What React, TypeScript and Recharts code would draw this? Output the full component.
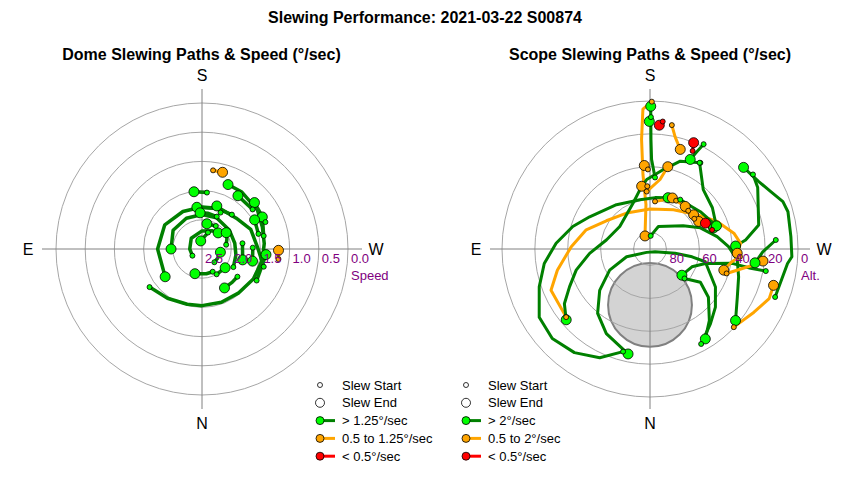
import React from "react";
import { ScatterChart, Scatter, XAxis, YAxis, ReferenceLine, ReferenceDot } from "recharts";

type Cat = "g" | "o" | "r";
type Slew = { cat: Cat; pts: [number, number][] };

const TITLE = "Slewing Performance: 2021-03-22 S00874";
const domeTitle = "Dome Slewing Paths & Speed (°/sec)";
const scopeTitle = "Scope Slewing Paths & Speed (°/sec)";

// ring positions
const domeRingSpeeds = [2.0, 1.5, 1.0, 0.5, 0.0];
const domeTickSpeeds = [2.5, 2.0, 1.5, 1.0, 0.5, 0.0];
const domeTickLabels = ["2.5", "2.0", "1.5", "1.0", "0.5", "0.0"];
const scopeRingAlts = [80, 60, 40, 20, 0];
const scopeTickLabels = ["80", "60", "40", "20", "0"];

const domeLegend = ["Slew Start", "Slew End", "> 1.25°/sec", "0.5 to 1.25°/sec", "< 0.5°/sec"];
const scopeLegend = ["Slew Start", "Slew End", "> 2°/sec", "0.5 to 2°/sec", "< 0.5°/sec"];

// dome slews: [azimuth°, speed °/sec], start -> end
const domeSlews: Slew[] = [
  { cat: "o", pts: [[188, 1.14], [195, 1.14]] },
  { cat: "o", pts: [[277.5, 1.18], [271, 1.19]] },
  { cat: "g", pts: [[54, 1.39], [35, 1.47], [15, 1.52], [0, 1.53], [340, 1.53], [320, 1.52], [300, 1.48], [280, 1.45], [265, 1.43], [250, 1.4], [235, 1.34], [215, 1.31], [202, 1.31]] },
  { cat: "g", pts: [[286, 1.4], [268, 1.55], [248, 1.6], [228, 1.71], [204, 1.74], [180, 1.78], [153, 1.78], [123, 1.74], [90, 1.74], [53, 1.71]] },
  { cat: "g", pts: [[300, 1.88], [280, 1.91], [260, 1.93], [235, 1.93], [205, 1.91], [180, 1.91], [153, 1.91], [123, 1.91], [90, 1.97]] },
  { cat: "g", pts: [[55, 2.3], [90, 2.29], [135, 2.24], [180, 2.19], [210, 2.14], [225, 2.11]] },
  { cat: "g", pts: [[185, 1.53], [172, 1.51]] },
  { cat: "g", pts: [[232, 1.4], [214, 1.4]] },
  { cat: "g", pts: [[247, 1.32], [228.5, 1.3]] },
  { cat: "g", pts: [[221, 1.72], [200, 1.76], [173, 1.78]] },
  { cat: "g", pts: [[207, 1.8], [199, 1.72]] },
  { cat: "g", pts: [[204.5, 1.89], [190, 1.88], [177, 1.88]] },
  { cat: "g", pts: [[334.8, 2.07], [350, 2.07], [16, 2.06]] },
  { cat: "g", pts: [[308, 1.73], [318, 1.73], [330, 1.73]] },
  { cat: "g", pts: [[268.5, 1.63], [283.5, 1.61]] },
  { cat: "g", pts: [[262, 1.8], [285, 1.78]] },
  { cat: "g", pts: [[300, 1.42], [275, 1.4]] },
  { cat: "g", pts: [[260, 2.08], [248, 2.04], [236, 2.0]] },
  { cat: "g", pts: [[317, 2.19], [300, 2.19], [280, 2.18]] },
  { cat: "g", pts: [[200, 2.2], [171, 2.36]] },
  { cat: "g", pts: [[211, 2.04], [191, 2.06]] },
  { cat: "g", pts: [[258, 1.42], [242, 1.33]] },
  { cat: "g", pts: [[255, 1.5], [241, 1.47]] },
  { cat: "g", pts: [[330, 2.0], [309, 1.99]] },
];

// scope slews: [azimuth°, altitude°], start -> end
const scopeSlews: Slew[] = [
  { cat: "o", pts: [[180.7, 0.4], [177.1, 4.8], [175.6, 23.1], [174.6, 44.5], [174.8, 62.9], [159, 81.5]] },
  { cat: "g", pts: [[183, 82], [200.4, 75.4], [235.1, 65.4], [247.2, 56.8], [259.6, 48.5], [268.3, 42.2], [277.2, 36.5], [287.5, 33.5], [298.8, 29.4], [309.9, 22.2]] },
  { cat: "o", pts: [[313, 20.3], [301.3, 16], [292.6, 11.5], [286.4, 11.7]] },
  { cat: "g", pts: [[291, 8.5], [276, 5.9], [273.1, 3.6], [265, 4], [254.9, 3.1], [250.4, 4.2], [244.6, 8.7], [238.2, 12.2], [228.9, 14.5]] },
  { cat: "g", pts: [[234.1, 12.7], [240.3, 14.6], [257.5, 22.3], [264.6, 31.6], [268, 37.9]] },
  { cat: "o", pts: [[50.9, 24.3], [67.4, 24.8], [77.1, 32.2], [91.7, 42.1], [106.7, 49.5], [122.9, 58.4], [146.9, 63.9], [180, 65.7], [210.9, 62.2], [233.9, 54.6], [247.7, 45.9], [259.3, 38.1], [266.4, 34.8], [272.8, 36.9]] },
  { cat: "g", pts: [[210.3, 29.3], [199, 33.5], [189.6, 41], [177.3, 47.7], [170.4, 53.4], [159.9, 60.2], [126.6, 67.1], [101.7, 62.9], [85.9, 53.2], [74, 43.3], [64.8, 35.9], [57.4, 28.2], [49.8, 23.3]] },
  { cat: "g", pts: [[14.7, 25.5], [24.8, 17.1], [36.1, 12], [47.5, 9.4], [58.4, 10.9], [71.1, 18.8], [82.2, 25.1], [93.5, 32.8], [106.2, 41.1], [118.1, 48.4], [142.9, 56.2], [168.5, 59.4], [185.6, 58.6], [199.4, 56.9]] },
  { cat: "g", pts: [[331.7, 24.4], [321.1, 31.5], [311.6, 36.8], [300.1, 44], [283, 55.5], [280.5, 64], [279.8, 74.5], [298.4, 86.5], [45, 87.1], [71.7, 75], [62.3, 62.3], [50.6, 50.4], [39.1, 39.5], [27.3, 32.1], [11.8, 24.8]] },
  { cat: "g", pts: [[310.5, 62.4], [303.4, 53.3], [309.6, 43.9], [320.3, 33.5], [328.4, 25.8]] },
  { cat: "g", pts: [[280.8, 18.3], [280.8, 27.7], [279.9, 39.2], [284.6, 55.2], [293, 62.3], [309.4, 64.9]] },
  { cat: "o", pts: [[287.7, 41.1], [281.9, 32.6], [278.3, 25], [276.1, 20.9]] },
  { cat: "o", pts: [[274.9, 35.1], [279.1, 39.8], [286, 43.3]] },
  { cat: "r", pts: [[185.7, 12.1], [184.3, 14.5]] },
  { cat: "o", pts: [[190, 13.5], [192.7, 20.3], [196.9, 26.7]] },
  { cat: "r", pts: [[203.5, 25], [202.3, 20.1]] },
  { cat: "g", pts: [[207.1, 18.4], [205.8, 24], [204.2, 30.3]] },
  { cat: "g", pts: [[209.9, 29.5], [221.9, 41.5], [236.5, 44.5], [247.4, 46.9], [251.6, 49.3]] },
  { cat: "o", pts: [[177.5, 51.8], [172.4, 51.5]] },
  { cat: "o", pts: [[186, 60.9], [197, 58.6], [203.7, 56.1]] },
  { cat: "o", pts: [[208.4, 56.6], [219.6, 56.4]] },
  { cat: "o", pts: [[225, 57.1], [231.9, 56.3]] },
  { cat: "o", pts: [[235.7, 57.4], [240.5, 56]] },
  { cat: "r", pts: [[252.9, 50.5], [245, 52.8]] },
  { cat: "o", pts: [[176.7, 55], [188.2, 47.3], [192.2, 38.8]] },
  { cat: "o", pts: [[178.5, 41.6], [176.1, 39.1]] },
  { cat: "g", pts: [[184, 46.4], [181, 35.5], [180.5, 23.3], [180.3, 3.2]] },
  { cat: "g", pts: [[180.4, 9.8], [179.7, 12.4]] },
  { cat: "g", pts: [[211.5, 54.8], [222.9, 54.1], [233.5, 51.9], [250.8, 47.2]] },
  { cat: "g", pts: [[265.9, 13.3], [271.5, 21.4], [277.5, 25.6]] },
];

// grey keep-out disk (az°, alt°, angular radius°)
const keepOut = { az: 0, alt: 56, radius: 25.5 };

const LINE: Record<Cat, string> = { g: "#008000", o: "#ffa500", r: "#ff0000" };
const DOT: Record<Cat, string> = { g: "#00ff00", o: "#ffa500", r: "#ff0000" };

const toXY = (az: number, rho: number) => {
  const a = (az * Math.PI) / 180;
  return { x: -rho * Math.sin(a), y: -rho * Math.cos(a) };
};

const Empty = () => <g />;

const catOf = (p: any): Cat => (p.payload && p.payload.cat) || p.cat || "g";

const EndDot = (p: any) => (
  <circle cx={p.cx} cy={p.cy} r={5} fill={DOT[catOf(p)]} stroke="#000" strokeWidth={0.8} />
);
const StartDot = (p: any) => (
  <circle cx={p.cx} cy={p.cy} r={2.5} fill={DOT[catOf(p)]} stroke="#000" strokeWidth={0.8} />
);

const textShape =
  (label: string, dx: number, dy: number, extra: any) =>
  (p: any) =>
    (
      <text x={p.cx + dx} y={p.cy + dy} {...extra}>
        {label}
      </text>
    );

type Tick = { rho: number; label: string };

function PolarPanel(props: {
  slews: Slew[];
  rho: (v: number) => number;
  rings: number[];
  ticks: Tick[];
  unit: string;
  pxPerUnit: number;
  left: number;
  top: number;
  lineWidth: number;
  disk?: { az: number; alt: number; radius: number };
}) {
  const { slews, rho, rings, ticks, unit, pxPerUnit, left, top, lineWidth, disk } = props;
  const half = 160 / pxPerUnit;
  const far = 174 / pxPerUnit;
  const paths = slews.map((s) => ({ cat: s.cat, pts: s.pts.map(([az, v]) => toXY(az, rho(v))) }));
  const starts = paths.map((p) => ({ ...p.pts[0], cat: p.cat }));
  const ends = paths.map((p) => ({ ...p.pts[p.pts.length - 1], cat: p.cat }));
  const diskXY = disk ? toXY(disk.az, rho(disk.alt)) : null;
  const compassStyle = { fontSize: 16, textAnchor: "middle", fill: "#000" };
  const tickStyle = { fontSize: 13, textAnchor: "start", fill: "#800080" };
  const outer = Math.max(...ticks.map((t) => t.rho));

  return (
    <div style={{ position: "absolute", left, top }}>
      <ScatterChart width={400} height={400} margin={{ top: 40, right: 40, bottom: 40, left: 40 }}>
        <XAxis type="number" dataKey="x" domain={[-half, half]} hide allowDataOverflow />
        <YAxis type="number" dataKey="y" domain={[-half, half]} hide allowDataOverflow />
        {diskXY && (
          <ReferenceDot
            x={diskXY.x}
            y={diskXY.y}
            r={disk!.radius * pxPerUnit}
            fill="#d3d3d3"
            stroke="#808080"
            strokeWidth={2}
            zIndex={-120}
          />
        )}
        {rings.map((r) => (
          <ReferenceDot key={r} x={0} y={0} r={r * pxPerUnit} fill="none" stroke="#a6a6a6" strokeWidth={1} zIndex={-100} />
        ))}
        <ReferenceLine x={0} stroke="#808080" zIndex={-90} />
        <ReferenceLine y={0} stroke="#808080" zIndex={-90} />
        {paths.map((p, i) => (
          <Scatter
            key={`path-${i}`}
            data={p.pts}
            line={{ stroke: LINE[p.cat], strokeWidth: lineWidth, strokeLinejoin: "round" }}
            lineType="joint"
            shape={Empty}
            isAnimationActive={false}
          />
        ))}
        <Scatter data={ends} shape={EndDot} isAnimationActive={false} />
        <Scatter data={starts} shape={StartDot} isAnimationActive={false} />
        <ReferenceDot x={0} y={far} r={0} ifOverflow="visible" shape={textShape("S", 0, 6, compassStyle)} zIndex={2000} />
        <ReferenceDot x={0} y={-far} r={0} ifOverflow="visible" shape={textShape("N", 0, 6, compassStyle)} zIndex={2000} />
        <ReferenceDot x={-far} y={0} r={0} ifOverflow="visible" shape={textShape("E", 0, 6, compassStyle)} zIndex={2000} />
        <ReferenceDot x={far} y={0} r={0} ifOverflow="visible" shape={textShape("W", 0, 6, compassStyle)} zIndex={2000} />
        {ticks.map((t) => (
          <ReferenceDot
            key={t.label}
            x={t.rho}
            y={0}
            r={0}
            ifOverflow="visible"
            shape={textShape(t.label, 3, 14, tickStyle)}
            zIndex={2000}
          />
        ))}
        <ReferenceDot x={outer} y={0} r={0} ifOverflow="visible" shape={textShape(unit, 3, 31, tickStyle)} zIndex={2000} />
      </ScatterChart>
    </div>
  );
}

function SlewLegend({ labels, left, top }: { labels: string[]; left: number; top: number }) {
  const rowH = 17.8;
  const cats: Cat[] = ["g", "g", "g", "o", "r"];
  return (
    <svg width={160} height={95} style={{ position: "absolute", left, top, overflow: "visible" }}>
      {labels.map((label, i) => {
        const y = 7 + i * rowH;
        const cat = cats[i];
        return (
          <g key={label}>
            {i >= 2 && <line x1={10} x2={25} y1={y} y2={y} stroke={LINE[cat]} strokeWidth={3} />}
            <circle
              cx={10}
              cy={y}
              r={i === 0 ? 2.5 : i === 1 ? 4.5 : 4}
              fill={i < 2 ? "#fff" : DOT[cat]}
              stroke="#000"
              strokeWidth={0.8}
            />
            <text x={32} y={y + 4.5} fontSize={13} fill="#000">
              {label}
            </text>
          </g>
        );
      })}
    </svg>
  );
}

const DOME_CX = 201.5;
const SCOPE_CX = 650;
const CY = 249;
const DOME_PX = 58.4;
const SCOPE_PX = 148 / 90;

export default function App() {
  const heading = {
    position: "absolute" as const,
    width: 400,
    textAlign: "center" as const,
    fontWeight: "bold" as const,
    fontSize: 16,
    lineHeight: "18px",
  };
  return (
    <div
      style={{
        position: "absolute",
        left: 0,
        top: 0,
        width: 850,
        height: 480,
        background: "#fff",
        overflow: "hidden",
        fontFamily: '"Liberation Sans", Arial, sans-serif',
      }}
    >
      <div style={{ ...heading, left: 0, width: 850, top: 9 }}>{TITLE}</div>
      <div style={{ ...heading, left: DOME_CX - 200, top: 46 }}>{domeTitle}</div>
      <div style={{ ...heading, left: SCOPE_CX - 200, top: 46 }}>{scopeTitle}</div>

      <PolarPanel
        slews={domeSlews}
        rho={(s) => 2.5 - s}
        rings={domeRingSpeeds.map((s) => 2.5 - s)}
        ticks={domeTickSpeeds.map((s, i) => ({ rho: 2.5 - s, label: domeTickLabels[i] }))}
        unit="Speed"
        pxPerUnit={DOME_PX}
        left={DOME_CX - 200}
        top={CY - 200}
        lineWidth={3.5}
      />
      <PolarPanel
        slews={scopeSlews}
        rho={(alt) => 90 - alt}
        rings={scopeRingAlts.map((a) => 90 - a)}
        ticks={scopeRingAlts.map((a, i) => ({ rho: 90 - a, label: scopeTickLabels[i] }))}
        unit="Alt."
        pxPerUnit={SCOPE_PX}
        left={SCOPE_CX - 200}
        top={CY - 200}
        lineWidth={3}
        disk={keepOut}
      />

      <SlewLegend labels={domeLegend} left={310} top={378} />
      <SlewLegend labels={scopeLegend} left={456} top={378} />
    </div>
  );
}
